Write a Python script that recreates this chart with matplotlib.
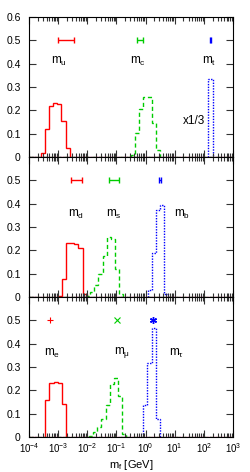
import matplotlib
matplotlib.use('Agg')
from matplotlib import pyplot as plt
from matplotlib.ticker import LogLocator, NullFormatter, FixedLocator
import numpy as np

plt.rcParams['font.family'] = ['Liberation Sans', 'DejaVu Sans']
plt.rcParams['mathtext.fontset'] = 'custom'
plt.rcParams['mathtext.rm'] = 'Liberation Sans'
plt.rcParams['mathtext.it'] = 'Liberation Sans:italic'
plt.rcParams['mathtext.default'] = 'regular'

# histogram bin edges given as log10(m / GeV) of first edge, bin width 1/7 decade
BW = 1.0 / 7.0

u_start, u_vals = -3.60, [0.018, 0.118, 0.220, 0.233, 0.227, 0.153, 0.037]
c_start, c_vals = -0.50, [0.010, 0.101, 0.204, 0.258, 0.258, 0.147, 0.030]
t_edges, t_vals = [2.153, 2.325], [0.335]

d_start, d_vals = -3.02, [0.005, 0.079, 0.233, 0.230, 0.227, 0.210, 0.012]
s_start, s_vals = -2.044, [0.005, 0.021, 0.053, 0.100, 0.177, 0.257, 0.250, 0.122, 0.012]
b_start, b_vals = 0.067, [0.030, 0.190, 0.373, 0.393, 0.015]

e_start, e_vals = -3.44, [0.160, 0.232, 0.235, 0.233, 0.143]
mu_start, mu_vals = -1.941, [0.005, 0.021, 0.043, 0.079, 0.136, 0.229, 0.253, 0.174, 0.014]
tau_start, tau_vals = -0.078, [0.136, 0.317, 0.469, 0.079]

# experimental ranges (GeV) drawn at y = 0.5
u_range = [0.00096, 0.00357]
c_range = [0.50, 0.79]
t_range = [166.0, 182.0]
d_range = [0.0027, 0.0065]
s_range = [0.056, 0.123]
b_range = [2.8, 3.4]
lepton_masses = [0.000511, 0.1057, 1.777]

decades = [-4, -3, -2, -1, 0, 1, 2, 3]
ylabels_top = ['0', '0.1', '0.2', '0.3', '0.4', '0.5', '0.6']
ylabels_low = ['0', '0.1', '0.2', '0.3', '0.4', '0.5', '']

RED = '#ff0000'
GREEN = '#00cc00'
BLUE = '#0000ff'
DASH = (0, (3, 2))
DOT = (0, (1, 1))

fig = plt.figure(figsize=(2.5, 4.72), dpi=100)
left, width, height = 29 / 250., 204 / 250., 140 / 472.
bottoms = [1 - 157 / 472., 1 - 297 / 472., 1 - 437 / 472.]
axes = [fig.add_axes([left, b, width, height]) for b in bottoms]


def hist(ax, start, vals, color, ls, w=None):
    if w is None:
        edges = 10 ** (start + BW * np.arange(len(vals) + 1))
    else:
        edges = 10 ** np.array(w)
    ax.stairs(vals, edges, baseline=0, color=color, linestyle=ls, linewidth=1.0)


def rng(ax, r, color):
    c = np.sqrt(r[0] * r[1])
    ax.errorbar([c], [0.5], xerr=[[c - r[0]], [r[1] - c]], color=color,
                capsize=2, elinewidth=1.0, capthick=1.0, fmt='none')


def label(ax, x, y, txt):
    ax.text(x, y, txt, ha='center', va='bottom', fontsize=8.5)


for ax in axes:
    ax.set_xscale('log')
    ax.set_xlim(1e-4, 1e3)
    ax.set_ylim(0, 0.6)
    for col, ls in [(RED, '-'), (GREEN, DASH), (BLUE, DOT)]:
        ax.axhline(0, color=col, ls=ls, lw=1.0, alpha=0.6)
    ax.set_xticks([10.0 ** k for k in decades])
    ax.set_xticklabels([r'10$^{%d}$' % k for k in decades])
    ax.xaxis.set_minor_locator(LogLocator(base=10, subs=np.arange(2, 10), numticks=20))
    ax.xaxis.set_minor_formatter(NullFormatter())
    ax.yaxis.set_major_locator(FixedLocator(np.arange(0, 0.61, 0.1)))
    ax.tick_params(which='both', direction='in', top=True, right=True,
                   labelsize=7.5, width=0.8, color='#333333')
    ax.tick_params(which='major', length=5)
    ax.tick_params(which='minor', length=3)
    ax.tick_params(axis='y', which='major', length=5, pad=6)
    for sp in ax.spines.values():
        sp.set_linewidth(0.8)

ax1, ax2, ax3 = axes
ax1.set_yticklabels(ylabels_top)
for ax in (ax2, ax3):
    ax.set_yticklabels(ylabels_low)
for ax in (ax1, ax2):
    ax.tick_params(axis='x', labelbottom=False)
ax3.tick_params(axis='x', pad=3, labelsize=7)

# up-type quarks
hist(ax1, u_start, u_vals, RED, '-')
hist(ax1, c_start, c_vals, GREEN, DASH)
hist(ax1, None, t_vals, BLUE, DOT, w=t_edges)
rng(ax1, u_range, RED)
rng(ax1, c_range, GREEN)
rng(ax1, t_range, BLUE)
label(ax1, 1.1e-3, 0.38, r'm$_{\rm u}$')
label(ax1, 0.55, 0.38, r'm$_{\rm c}$')
label(ax1, 150., 0.38, r'm$_{\rm t}$')
ax1.text(45., 0.13, 'x1/3', ha='center', va='bottom', fontsize=8.5)

# down-type quarks
hist(ax2, d_start, d_vals, RED, '-')
hist(ax2, s_start, s_vals, GREEN, DASH)
hist(ax2, b_start, b_vals, BLUE, DOT)
rng(ax2, d_range, RED)
rng(ax2, s_range, GREEN)
rng(ax2, b_range, BLUE)
label(ax2, 4.0e-3, 0.325, r'm$_{\rm d}$')
label(ax2, 8.0e-2, 0.325, r'm$_{\rm s}$')
label(ax2, 18., 0.325, r'm$_{\rm b}$')

# charged leptons
hist(ax3, e_start, e_vals, RED, '-')
hist(ax3, mu_start, mu_vals, GREEN, DASH)
hist(ax3, tau_start, tau_vals, BLUE, DOT)
ax3.plot([lepton_masses[0]], [0.5], marker='+', color=RED, ms=5, mew=0.8, ls='none')
ax3.plot([lepton_masses[1]], [0.5], marker='x', color=GREEN, ms=4, mew=0.8, ls='none')
ax3.plot([lepton_masses[2]], [0.5], marker=(6, 2, 0), color=BLUE, ms=5, mew=1.0, ls='none')
label(ax3, 6.0e-4, 0.33, r'm$_{\rm e}$')
label(ax3, 0.16, 0.33, r'm$_\mu$')
label(ax3, 12., 0.33, r'm$_\tau$')
ax3.set_xlabel(r'm$_{\rm f}$ [GeV]', fontsize=8, labelpad=2)

plt.savefig('out.png', dpi=100)
plt.close(fig)
